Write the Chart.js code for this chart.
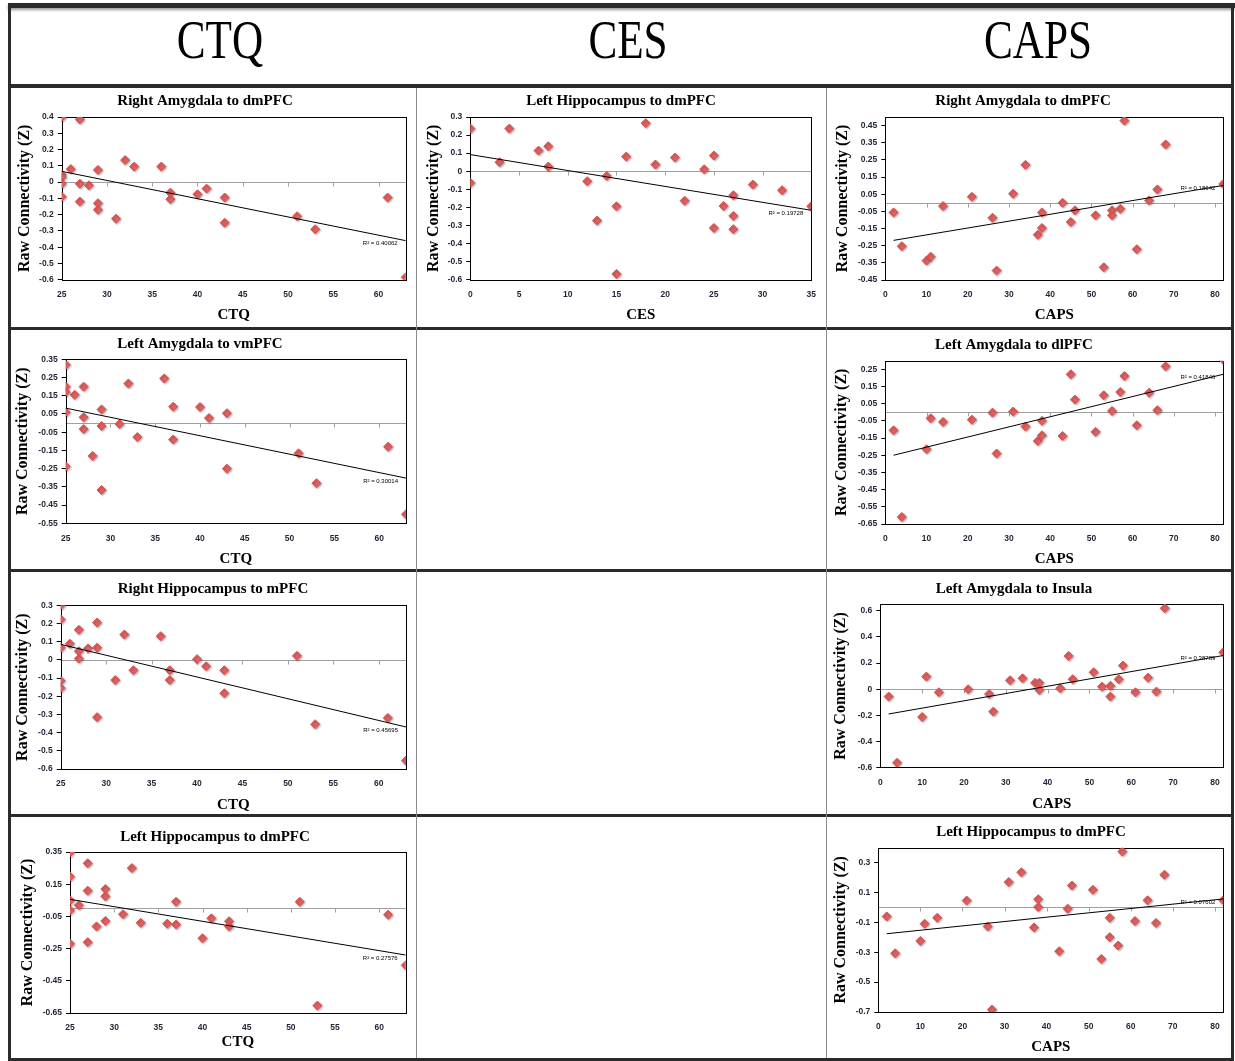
<!DOCTYPE html>
<html>
<head>
<meta charset="utf-8">
<script src="https://cdn.jsdelivr.net/npm/chart.js@4.4.1/dist/chart.umd.min.js"></script>
<style>
  body { margin:0; background:#fff; width:1235px; height:1061px; position:relative; overflow:hidden; }
  .ln { position:absolute; background:#2b2b2b; }
  .thin { position:absolute; background:#8c8c8c; }
  .head { position:absolute; top:13px; width:300px; text-align:center; font-family:"Liberation Serif",serif; font-size:54px; line-height:54px; transform:scaleX(0.8); color:#000; }
  canvas { position:absolute; }
</style>
</head>
<body>
<!-- table frame -->
<div class="ln" style="left:8px;top:3px;width:1227px;height:5px;box-shadow:0 2px 3px #999"></div>
<div class="ln" style="left:8px;top:84px;width:1226px;height:4px"></div>
<div class="ln" style="left:8px;top:327px;width:1226px;height:3px"></div>
<div class="ln" style="left:8px;top:569px;width:1226px;height:3px"></div>
<div class="ln" style="left:8px;top:814px;width:1226px;height:3px"></div>
<div class="ln" style="left:8px;top:1058px;width:1226px;height:3px"></div>
<div class="ln" style="left:8px;top:3px;width:3px;height:1058px"></div>
<div class="ln" style="left:1231px;top:3px;width:3px;height:1058px"></div>
<div class="thin" style="left:416px;top:88px;width:1px;height:970px"></div>
<div class="thin" style="left:826px;top:88px;width:1px;height:970px"></div>

<div class="head" style="left:70px">CTQ</div>
<div class="head" style="left:478px">CES</div>
<div class="head" style="left:888px">CAPS</div>

<script>
// DATA

// CTQ - Right Amygdala to dmPFC
var ctqRightAmygDmpfcX = [25,25,25,25,25,26,27,27,27,28,29,29,29,31,32,33,36,37,37,40,41,43,43,51,53,61,63];
var ctqRightAmygDmpfcY = [0.40,0.045,0.03,-0.01,-0.09,0.08,0.385,-0.01,-0.12,-0.02,0.075,-0.13,-0.17,-0.225,0.135,0.095,0.095,-0.065,-0.105,-0.075,-0.04,-0.095,-0.25,-0.21,-0.29,-0.095,-0.585];
// CES - Left Hippocampus to dmPFC
var cesLeftHippoDmpfcX = [0,0,3,4,7,8,8,12,13,14,15,15,16,18,19,21,22,24,25,25,26,27,27,27,29,32,35];
var cesLeftHippoDmpfcY = [0.236,-0.064,0.05,0.236,0.114,0.138,0.026,-0.055,-0.273,-0.026,-0.194,-0.568,0.081,0.266,0.037,0.076,-0.163,0.011,0.087,-0.314,-0.192,-0.133,-0.247,-0.321,-0.074,-0.105,-0.194];
// CAPS - Right Amygdala to dmPFC
var capsRightAmygDmpfcX = [2,4,10,11,14,21,26,27,31,34,37,38,38,43,45,46,51,53,55,55,57,58,61,64,66,68,82];
var capsRightAmygDmpfcY = [-0.056,-0.253,-0.337,-0.314,-0.019,0.035,-0.087,-0.395,0.053,0.221,-0.186,-0.147,-0.056,0.0,-0.112,-0.044,-0.073,-0.376,-0.044,-0.073,-0.035,0.479,-0.271,0.014,0.078,0.34,0.11];
// CTQ - Left Amygdala to vmPFC
var ctqLeftAmygVmpfcX = [25,25,25,25,25,26,27,27,27,28,29,29,29,31,32,33,36,37,37,40,41,43,43,51,53,61,63];
var ctqLeftAmygVmpfcY = [0.32,0.20,0.17,0.06,-0.238,0.155,0.20,0.032,-0.033,-0.18,0.075,-0.016,-0.367,-0.005,0.217,-0.077,0.245,0.09,-0.09,0.088,0.028,0.054,-0.25,-0.166,-0.33,-0.13,-0.50];
// CAPS - Left Amygdala to dlPFC
var capsLeftAmygDlpfcX = [2,4,10,11,14,21,26,27,31,34,37,38,38,43,45,46,51,53,55,57,58,61,64,66,68,82];
var capsLeftAmygDlpfcY = [-0.105,-0.609,-0.215,-0.035,-0.056,-0.043,-0.002,-0.24,0.004,-0.083,-0.167,-0.134,-0.05,-0.138,0.221,0.074,-0.114,0.099,0.008,0.118,0.211,-0.076,0.114,0.012,0.267,0.305];
// CTQ - Right Hippocampus to mPFC
var ctqRightHippoMpfcX = [25,25,25,25,25,26,27,27,27,28,29,29,29,31,32,33,36,37,37,40,41,43,43,51,53,61,63];
var ctqRightHippoMpfcY = [0.30,0.222,0.067,-0.115,-0.155,0.089,0.165,0.048,0.007,0.063,0.205,0.067,-0.315,-0.111,0.139,-0.057,0.13,-0.057,-0.111,0.004,-0.035,-0.057,-0.183,0.022,-0.354,-0.319,-0.554];
// CAPS - Left Amygdala to Insula
var capsLeftAmygInsulaX = [2,4,10,11,14,21,26,27,31,34,37,38,38,43,45,46,51,53,55,55,57,58,61,64,66,68,82];
var capsLeftAmygInsulaY = [-0.056,-0.562,-0.212,0.097,-0.023,0.0,-0.036,-0.171,0.069,0.084,0.049,0.049,-0.005,0.008,0.255,0.077,0.13,0.02,0.026,-0.056,0.077,0.181,-0.023,0.089,-0.018,0.62,0.283];
// CTQ - Left Hippocampus to dmPFC
var ctqLeftHippoDmpfcX = [25,25,25,25,25,26,27,27,27,28,29,29,29,31,32,33,36,37,37,40,41,43,43,51,53,61,63];
var ctqLeftHippoDmpfcY = [0.348,0.197,0.05,-0.012,-0.22,0.02,0.28,0.11,-0.21,-0.112,0.12,0.075,-0.078,-0.036,0.25,-0.09,-0.095,0.041,-0.1,-0.186,-0.062,-0.08,-0.112,0.041,-0.604,-0.039,-0.354];
// CAPS - Left Hippocampus to dmPFC
var capsLeftHippoDmpfcX = [2,4,10,11,14,21,26,27,31,34,37,38,38,43,45,46,51,53,55,55,57,58,61,64,66,68,82];
var capsLeftHippoDmpfcY = [-0.06,-0.307,-0.224,-0.109,-0.069,0.046,-0.127,-0.684,0.17,0.235,-0.134,0.055,0.003,-0.293,-0.008,0.147,0.118,-0.345,-0.069,-0.199,-0.255,0.374,-0.091,0.048,-0.104,0.219,0.048];

// trendline ends [x0, y0, x1, y1]
var trends = [
  [25,0.066,63,-0.36], [0,0.092,35,-0.216], [2,-0.219,82,0.101],
  [25,0.082,63,-0.302], [2,-0.25,82,0.221],
  [25,0.085,63,-0.369], [2,-0.189,82,0.258],
  [25,0.056,63,-0.29], [2,-0.176,82,0.057]
];
var r2Labels = ["R² = 0.40062","R² = 0.19728","R² = 0.18642","R² = 0.30014","R² = 0.41846","R² = 0.45695","R² = 0.38789","R² = 0.27576","R² = 0.07602"];
var titles = ["Right Amygdala to dmPFC","Left Hippocampus to dmPFC","Right Amygdala to dmPFC","Left Amygdala to vmPFC","Left Amygdala to dlPFC","Right Hippocampus to mPFC","Left Amygdala to Insula","Left Hippocampus to dmPFC","Left Hippocampus to dmPFC"];
var xLabels = ["CTQ","CES","CAPS","CTQ","CAPS","CTQ","CAPS","CTQ","CAPS"];
var yLabel = "Raw Connectivity (Z)";

// axis ranges [min, max, step]
var xAxes = {CTQ:[25,63,5], CES:[0,35,5], CAPS:[0,82,10]};
var yAxes = [[-0.6,0.4,0.1],[-0.6,0.3,0.1],[-0.45,0.5,0.1],[-0.55,0.35,0.1],[-0.65,0.3,0.1],[-0.6,0.3,0.1],[-0.6,0.65,0.2],[-0.65,0.35,0.2],[-0.7,0.4,0.2]];

var seriesX = [ctqRightAmygDmpfcX,cesLeftHippoDmpfcX,capsRightAmygDmpfcX,ctqLeftAmygVmpfcX,capsLeftAmygDlpfcX,ctqRightHippoMpfcX,capsLeftAmygInsulaX,ctqLeftHippoDmpfcX,capsLeftHippoDmpfcX];
var seriesY = [ctqRightAmygDmpfcY,cesLeftHippoDmpfcY,capsRightAmygDmpfcY,ctqLeftAmygVmpfcY,capsLeftAmygDlpfcY,ctqRightHippoMpfcY,capsLeftAmygInsulaY,ctqLeftHippoDmpfcY,capsLeftHippoDmpfcY];

// LAYOUT (page pixels): cell, plot area, y title x, x title y, chart title
var boxes = [
  {l:11, t:88, w:405, h:239, pl:61.7, pt:117, pr:405.7, pb:279.7, ytx:25, xty:315, tx:205, ty:101},
  {l:417, t:88, w:409, h:239, pl:470.3, pt:117, pr:813.3, pb:279.7, ytx:434, xty:314.7, tx:621, ty:101},
  {l:827, t:88, w:404, h:239, pl:885.3, pt:117, pr:1223.3, pb:280, ytx:843, xty:314.7, tx:1023, ty:101},
  {l:11, t:330, w:405, h:239, pl:65.7, pt:359.3, pr:406, pb:523.3, ytx:23.3, xty:559.3, tx:200, ty:344},
  {l:827, t:330, w:404, h:239, pl:885.3, pt:360.7, pr:1223.3, pb:524, ytx:842, xty:559.3, tx:1014, ty:345},
  {l:11, t:572, w:405, h:242, pl:60.7, pt:605.3, pr:406, pb:769, ytx:23.3, xty:804.7, tx:213, ty:589},
  {l:827, t:572, w:404, h:242, pl:880.3, pt:604.3, pr:1223.3, pb:767.7, ytx:841, xty:803.7, tx:1014, ty:589},
  {l:11, t:817, w:405, h:241, pl:70, pt:852, pr:405.7, pb:1013, ytx:28.3, xty:1042, tx:215, ty:837},
  {l:827, t:817, w:404, h:241, pl:878.3, pt:847.7, pr:1223.3, pb:1012, ytx:841, xty:1047, tx:1031, ty:832}
];

var tickFont = {family:"Liberation Sans", size:8.5, weight:"bold"};
var tickColor = "#1e2433";
var yTitleFont = {family:"Liberation Serif", size:16, weight:"bold"};
var xTitleFont = {family:"Liberation Serif", size:15, weight:"bold"};

function steps(min, max, step) {
  var out = [];
  for (var v = min; v <= max + 1e-9; v += step) out.push(Math.round(v * 1000) / 1000);
  return out;
}
function fmt(v) {
  return String(Math.round(v * 100) / 100);
}

// zero line, plot frame, marker shadow, title and R² text
var excelLook = {
  id: "excelLook",
  beforeDatasetsDraw: function(chart, args, opts) {
    var ctx = chart.ctx, a = chart.chartArea, x = chart.scales.x, y = chart.scales.y;
    ctx.save();
    ctx.lineWidth = 1;
    var y0 = Math.round(y.getPixelForValue(0)) + 0.5;
    ctx.strokeStyle = "#a0a0a0";
    ctx.beginPath();
    ctx.moveTo(a.left, y0);
    ctx.lineTo(a.right, y0);
    x.ticks.forEach(function(t) {
      var px = Math.round(x.getPixelForValue(t.value)) + 0.5;
      ctx.moveTo(px, y0);
      ctx.lineTo(px, y0 + 4);
    });
    ctx.stroke();
    ctx.strokeStyle = "#000";
    ctx.strokeRect(Math.round(a.left) + 0.5, Math.round(a.top) + 0.5, Math.round(a.right - a.left), Math.round(a.bottom - a.top));
    ctx.restore();
  },
  beforeDatasetDraw: function(chart, args) {
    chart.ctx.save();
    if (args.meta.type === "scatter") {
      chart.ctx.shadowColor = "rgba(0,0,0,0.3)";
      chart.ctx.shadowBlur = 2;
      chart.ctx.shadowOffsetX = 1;
      chart.ctx.shadowOffsetY = 1;
    }
  },
  afterDatasetDraw: function(chart) {
    chart.ctx.restore();
  },
  afterDraw: function(chart, args, opts) {
    var ctx = chart.ctx, a = chart.chartArea, y = chart.scales.y;
    ctx.save();
    ctx.fillStyle = "#000";
    ctx.font = 'bold 15px "Liberation Serif"';
    ctx.textAlign = "center";
    ctx.textBaseline = "middle";
    ctx.fillText(opts.title, opts.titleX, opts.titleY);
    ctx.font = '6px "Liberation Sans"';
    ctx.textAlign = "right";
    ctx.fillText(opts.r2, a.right - 8, y.getPixelForValue(opts.r2y) + 3);
    ctx.restore();
  }
};

boxes.forEach(function(b, i) {
  var cv = document.createElement("canvas");
  cv.width = b.w;
  cv.height = b.h;
  cv.style.left = b.l + "px";
  cv.style.top = b.t + "px";
  document.body.appendChild(cv);

  var lhY = yTitleFont.size * 1.2, lhX = xTitleFont.size * 1.2;
  var yW = b.pl - (b.ytx - lhY / 2);
  var xH = b.xty + lhX / 2 - b.pb;
  var xr = xAxes[xLabels[i]], yr = yAxes[i], tr = trends[i];

  var points = seriesX[i].map(function(v, k) { return {x: v, y: seriesY[i][k]}; });

  new Chart(cv, {
    type: "scatter",
    data: {
      datasets: [
        {type: "line", data: [{x: tr[0], y: tr[1]}, {x: tr[2], y: tr[3]}], borderColor: "#000", borderWidth: 1, pointRadius: 0, order: 0},
        {type: "scatter", data: points, pointStyle: "rectRot", pointRadius: 4.5, backgroundColor: "#e2605f", borderColor: "#d75456", borderWidth: 1, order: 1}
      ]
    },
    options: {
      responsive: false,
      animation: false,
      devicePixelRatio: 1,
      layout: {padding: {left: b.ytx - lhY / 2 - b.l, top: b.pt - b.t, right: b.l + b.w - b.pr, bottom: b.t + b.h - (b.xty + lhX / 2)}},
      plugins: {
        legend: {display: false},
        tooltip: {enabled: false},
        excelLook: {title: titles[i], titleX: b.tx - b.l, titleY: b.ty - b.t, r2: r2Labels[i], r2y: tr[3]}
      },
      scales: {
        x: {
          type: "linear", min: xr[0], max: xr[1],
          afterBuildTicks: function(s) { s.ticks = steps(xr[0], xr[1], xr[2]).map(function(v) { return {value: v}; }); },
          afterFit: function(s) { s.height = xH; },
          grid: {display: false, drawTicks: false},
          border: {display: false},
          ticks: {padding: 10, autoSkip: false, maxRotation: 0, font: tickFont, color: tickColor, callback: function(v) { return fmt(v); }},
          title: {display: true, text: xLabels[i], font: xTitleFont, color: "#000", padding: 0}
        },
        y: {
          type: "linear", min: yr[0], max: yr[1],
          afterBuildTicks: function(s) { s.ticks = steps(yr[0], yr[1], yr[2]).map(function(v) { return {value: v}; }); },
          afterFit: function(s) { s.width = yW; },
          grid: {drawOnChartArea: false, drawTicks: true, tickLength: 4, color: "#000"},
          border: {display: false},
          ticks: {padding: 4, autoSkip: false, font: tickFont, color: tickColor, callback: function(v) { return fmt(v); }},
          title: {display: true, text: yLabel, font: yTitleFont, color: "#000", padding: 0}
        }
      }
    },
    plugins: [excelLook]
  });
});
</script>
</body>
</html>
